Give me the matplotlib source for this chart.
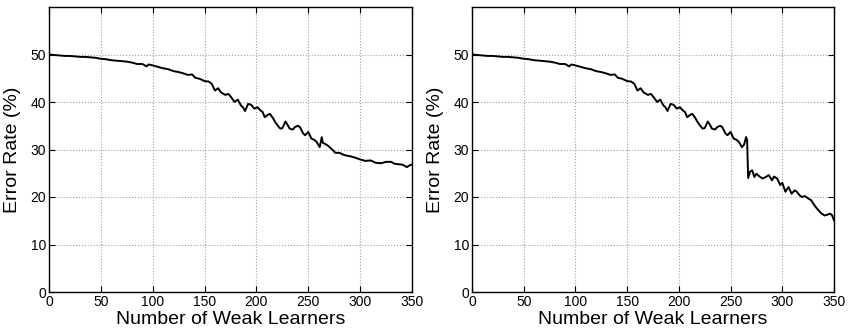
import numpy as np
import matplotlib
matplotlib.use("Agg")
from matplotlib import pyplot as plt

plt.rcParams["font.family"] = ["Liberation Sans", "DejaVu Sans"]

# Error rate curve shared by both runs up to ~260 weak learners
head_x = [0, 5, 10, 15, 20, 25, 30, 35, 40, 45, 50, 55, 60, 65, 70, 75, 80, 85, 90, 94,
          96, 100, 105, 110, 115, 120, 125, 130, 134, 138, 141, 145, 150, 154, 157, 160,
          163, 166, 170, 173, 176, 179, 182, 185, 187, 189, 192, 195, 198, 201, 204, 206,
          208, 211, 213, 216, 218, 221, 223, 225, 228, 230, 232, 235, 237, 240, 242, 245,
          247, 250, 253, 256, 258, 261]
head_y = [50.0, 49.9, 49.8, 49.7, 49.7, 49.6, 49.5, 49.5, 49.4, 49.3, 49.1, 49.0, 48.8,
          48.7, 48.6, 48.5, 48.3, 48.0, 48.0, 47.5, 47.9, 47.7, 47.4, 47.1, 46.9, 46.5,
          46.3, 46.0, 45.7, 45.8, 45.1, 44.9, 44.4, 44.3, 43.8, 42.4, 42.9, 42.0, 41.5,
          41.7, 40.9, 40.0, 40.5, 39.3, 38.9, 38.1, 39.6, 39.4, 38.6, 38.9, 38.2, 37.9,
          36.8, 37.3, 37.5, 36.6, 35.8, 34.9, 34.4, 34.5, 35.9, 35.2, 34.4, 34.2, 34.7,
          35.0, 34.7, 33.4, 33.0, 33.7, 32.3, 32.0, 31.6, 30.5]

# Left run, remaining learners
tail_a_x = [263, 264, 266, 269, 272, 274, 276, 280, 285, 290, 295, 300, 305, 310, 315,
            320, 325, 330, 333, 337, 341, 345, 348, 350]
tail_a_y = [32.6, 31.4, 31.2, 30.8, 30.2, 29.8, 29.3, 29.3, 28.8, 28.6, 28.3, 27.9, 27.6,
            27.7, 27.2, 27.1, 27.4, 27.4, 27.0, 26.9, 26.8, 26.3, 26.7, 26.8]

# Right run, remaining learners (sharp drop near 267)
tail_b_x = [263, 265, 266, 267, 269, 271, 273, 275, 278, 281, 284, 287, 290, 292, 295,
            298, 300, 303, 306, 309, 312, 314, 317, 319, 322, 325, 328, 330, 333, 335,
            338, 341, 344, 346, 348, 350]
tail_b_y = [31.0, 32.6, 32.0, 24.0, 25.4, 25.6, 24.2, 24.9, 24.3, 23.9, 24.2, 24.6, 23.5,
            24.3, 23.9, 22.5, 23.0, 21.1, 22.1, 20.7, 21.4, 21.1, 20.3, 20.0, 20.2, 19.7,
            19.3, 18.6, 17.7, 17.2, 16.5, 16.1, 16.3, 16.5, 16.2, 15.1]

x_ticks = [0, 50, 100, 150, 200, 250, 300, 350]
y_ticks = [0, 10, 20, 30, 40, 50]

fig = plt.figure(figsize=(8.49, 3.33), dpi=100)
ax_left = fig.add_axes([49/849, 41/333, 363/849, 285/333])
ax_right = fig.add_axes([472/849, 41/333, 362/849, 285/333])

series = [(head_x + tail_a_x, head_y + tail_a_y),
          (head_x + tail_b_x, head_y + tail_b_y)]

for ax, (xs, ys) in zip([ax_left, ax_right], series):
  ax.plot(xs, ys, color="black", linewidth=1.4)
  ax.set_xlim(0, 350)
  ax.set_ylim(0, 60)
  ax.set_xticks(x_ticks)
  ax.set_yticks(y_ticks)
  ax.grid(True, linestyle=":", color="#a0a0a0", linewidth=0.8)
  ax.tick_params(direction="in", length=4, width=0.8, top=True, right=True,
                 labelsize=10, pad=2)
  for spine in ax.spines.values():
    spine.set_linewidth(1.0)
  ax.set_xlabel("Number of Weak Learners", fontsize=14)
  ax.set_ylabel("Error Rate (%)", fontsize=14)
  ax.xaxis.set_label_coords(0.5, -0.068)
  ax.yaxis.set_label_coords(-0.078, 0.5)

fig.savefig("out.png", dpi=100)
